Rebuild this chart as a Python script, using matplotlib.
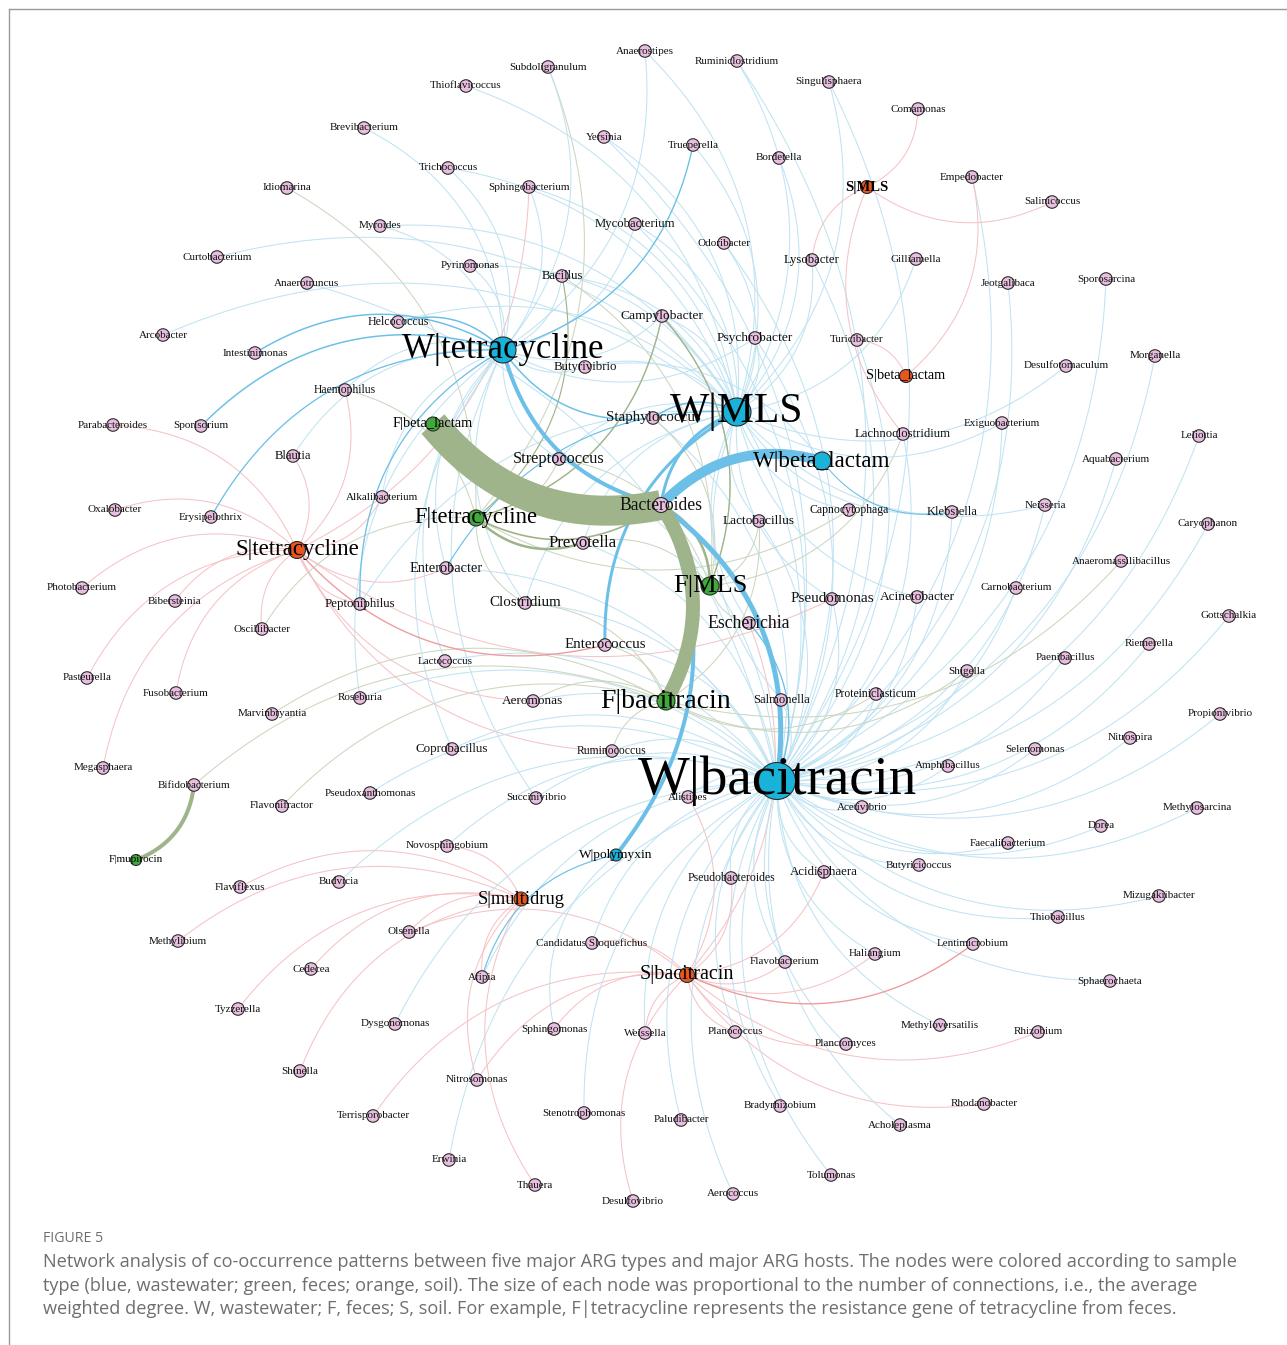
import numpy as np
import matplotlib.pyplot as plt

# ARG nodes (type|gene) and where they sit in the layout (pixel coords of the figure)
arg_names = ["W|bacitracin", "W|MLS", "W|tetracycline", "W|beta_lactam", "W|polymyxin",
             "F|beta_lactam", "F|tetracycline", "F|MLS", "F|bacitracin", "F|mupirocin",
             "S|tetracycline", "S|MLS", "S|beta_lactam", "S|multidrug", "S|bacitracin"]
arg_codes = ["Wb", "Wm", "Wt", "Wl", "Wp", "Fl", "Ft", "Fm", "Fb", "Fu", "St", "Sm", "Sl", "Sd", "Sb"]
arg_x = [777, 737, 503, 822, 616, 433, 476, 710, 666, 136, 297, 867, 906, 521, 687]
arg_y = [781, 412, 350, 461, 855, 424, 518, 586, 701, 860, 550, 187, 376, 899, 975]
# average weighted degree (relative)
arg_degree = [37, 28, 26, 18, 12, 14, 16, 18, 18, 11, 17, 13, 13, 14, 15]

host_names = [
    "Anaerostipes", "Subdoligranulum", "Ruminiclostridium", "Thioflavicoccus", "Singulisphaera",
    "Comamonas", "Brevibacterium", "Yersinia", "Trueperella", "Bordetella", "Trichococcus",
    "Sphingobacterium", "Idiomarina", "Empedobacter", "Salinicoccus", "Myroides", "Mycobacterium",
    "Odoribacter", "Curtobacterium", "Lysobacter", "Gilliamella", "Pyrinomonas", "Bacillus",
    "Anaerotruncus", "Jeotgalibaca", "Sporosarcina", "Campylobacter", "Helcococcus", "Psychrobacter",
    "Turicibacter", "Arcobacter", "Intestinimonas", "Butyrivibrio", "Desulfotomaculum", "Morganella",
    "Haemophilus", "Staphylococcus", "Parabacteroides", "Sporisorium", "Lachnoclostridium",
    "Exiguobacterium", "Leliottia", "Blautia", "Streptococcus", "Aquabacterium", "Alkalibacterium",
    "Bacteroides", "Oxalobacter", "Erysipelothrix", "Lactobacillus", "Capnocytophaga", "Klebsiella",
    "Neisseria", "Caryophanon", "Prevotella", "Anaeromassilibacillus", "Enterobacter",
    "Photobacterium", "Bibersteinia", "Peptoniphilus", "Clostridium", "Pseudomonas", "Acinetobacter",
    "Carnobacterium", "Gottschalkia", "Escherichia", "Oscillibacter", "Enterococcus", "Lactococcus",
    "Riemerella", "Paenibacillus", "Shigella", "Pasteurella", "Fusobacterium", "Roseburia",
    "Aeromonas", "Salmonella", "Proteiniclasticum", "Marvinbryantia", "Propionivibrio", "Nitrospira",
    "Coprobacillus", "Ruminococcus", "Selenomonas", "Amphibacillus", "Megasphaera", "Bifidobacterium",
    "Pseudoxanthomonas", "Alistipes", "Succinivibrio", "Flavonifractor", "Acetivibrio",
    "Methylosarcina", "Dorea", "Faecalibacterium", "Novosphingobium", "Pseudobacteroides",
    "Acidisphaera", "Butyricicoccus", "Flaviflexus", "Budvicia", "Mizugakiibacter", "Thiobacillus",
    "Olsenella", "Methylibium", "Candidatus Sloquefichus", "Lentimicrobium", "Cedecea", "Afipia",
    "Flavobacterium", "Haliangium", "Sphaerochaeta", "Tyzzerella", "Dysgonomonas", "Sphingomonas",
    "Weissella", "Planococcus", "Methyloversatilis", "Rhizobium", "Planctomyces", "Shinella",
    "Nitrosomonas", "Terrisporobacter", "Stenotrophomonas", "Paludibacter", "Bradyrhizobium",
    "Rhodanobacter", "Acholeplasma", "Erwinia", "Thauera", "Tolumonas", "Aerococcus", "Desulfovibrio"]
host_x = [
    645, 548, 737, 466, 829, 918, 364, 604, 693, 779, 448, 529, 287, 972, 1052, 380, 635, 724, 217,
    812, 916, 470, 562, 307, 1008, 1106, 662, 398, 755, 857, 163, 255, 585, 1066, 1155, 345, 653, 113,
    201, 903, 1002, 1199, 293, 559, 1116, 382, 661, 115, 211, 759, 849, 952, 1045, 1208, 583, 1121,
    446, 82, 175, 360, 525, 832, 917, 1016, 1229, 749, 262, 605, 445, 1149, 1065, 967, 87, 176, 360,
    533, 781, 876, 272, 1220, 1130, 452, 612, 1035, 948, 103, 194, 370, 688, 536, 282, 862, 1197,
    1101, 1008, 447, 731, 824, 919, 240, 339, 1159, 1058, 409, 178, 592, 973, 311, 482, 785, 875,
    1110, 238, 395, 554, 645, 735, 940, 1038, 846, 300, 477, 373, 584, 681, 780, 984, 900, 449, 535,
    831, 733, 633]
host_y = [
    51, 67, 61, 86, 82, 109, 128, 137, 145, 158, 168, 187, 188, 177, 202, 226, 224, 243, 257, 260,
    259, 266, 276, 283, 283, 279, 316, 322, 338, 340, 335, 353, 367, 366, 356, 390, 418, 425, 426,
    434, 423, 436, 456, 459, 459, 497, 505, 510, 517, 521, 510, 512, 505, 524, 543, 561, 568, 588,
    601, 604, 603, 599, 597, 588, 616, 623, 629, 645, 661, 644, 658, 671, 678, 693, 698, 701, 700,
    694, 714, 714, 738, 749, 751, 749, 766, 768, 785, 793, 797, 798, 806, 807, 808, 826, 843, 846,
    878, 872, 865, 887, 882, 896, 917, 932, 941, 943, 944, 969, 977, 962, 954, 981, 1009, 1024, 1029,
    1033, 1032, 1025, 1032, 1044, 1071, 1080, 1116, 1113, 1120, 1106, 1104, 1125, 1160, 1185, 1175,
    1194, 1201]

# host -> ARG co-occurrence links (thin edges)
links = [
    ("Anaerostipes", ["Wm", "Wt"]), ("Subdoligranulum", ["Ft", "Wt"]), ("Ruminiclostridium", ["Wm", "Wb"]),
    ("Thioflavicoccus", ["Wm"]), ("Singulisphaera", ["Wb", "Wm"]), ("Comamonas", ["Sm"]),
    ("Brevibacterium", ["Wt"]), ("Yersinia", ["Wm", "Wb"]), ("Trueperella", ["Wt", "Wm"]),
    ("Bordetella", ["Wm"]), ("Trichococcus", ["Wt", "Wm"]), ("Sphingobacterium", ["St", "Wt", "Wm"]),
    ("Idiomarina", ["Ft"]), ("Empedobacter", ["Wb", "Sl"]), ("Salinicoccus", ["Sm"]),
    ("Myroides", ["Wm", "Wt"]), ("Mycobacterium", ["Wt", "Wm", "Wb"]), ("Odoribacter", ["Wm", "Wb"]),
    ("Curtobacterium", ["Wm"]), ("Lysobacter", ["Sm", "Wb", "Wm"]), ("Gilliamella", ["Wm"]),
    ("Pyrinomonas", ["Wm", "Wt"]), ("Bacillus", ["Fm", "Wt", "Wm"]), ("Anaerotruncus", ["Wb"]),
    ("Jeotgalibaca", ["Wb"]), ("Sporosarcina", ["Wb"]), ("Campylobacter", ["Fm", "Ft", "Wm", "Wt", "Wb"]),
    ("Helcococcus", ["Wm"]), ("Psychrobacter", ["Wb", "Wm", "Wt"]), ("Turicibacter", ["Wb", "Sl"]),
    ("Arcobacter", ["Wm"]), ("Butyrivibrio", ["Wt", "Wm", "Wl"]), ("Desulfotomaculum", ["Wm"]),
    ("Morganella", ["Wb"]), ("Haemophilus", ["St", "Wt", "Ft"]), ("Staphylococcus", ["Wb", "Fm"]),
    ("Parabacteroides", ["St"]), ("Lachnoclostridium", ["Wb", "Fm", "Sm"]), ("Exiguobacterium", ["Wm", "Wb"]),
    ("Leliottia", ["Wb"]), ("Blautia", ["Wt", "St"]), ("Streptococcus", ["Wt", "Wm", "Fm", "Wb", "Ft"]),
    ("Aquabacterium", ["Wb"]), ("Alkalibacterium", ["St", "Wt"]), ("Oxalobacter", ["St"]),
    ("Erysipelothrix", ["Wt"]), ("Lactobacillus", ["Wm", "Wb", "Fm", "Fb"]), ("Capnocytophaga", ["Wm", "Ft"]),
    ("Klebsiella", ["Wm", "Wb"]), ("Neisseria", ["Wm", "Wb"]), ("Caryophanon", ["Wb"]),
    ("Prevotella", ["Wm", "Fm", "Wb"]), ("Anaeromassilibacillus", ["Fb"]), ("Enterobacter", ["St", "Wt", "Wb"]),
    ("Photobacterium", ["St"]), ("Bibersteinia", ["St"]), ("Peptoniphilus", ["St", "Wt", "Wm"]),
    ("Clostridium", ["Ft", "Wt", "Wm", "Wb", "Fb"]), ("Pseudomonas", ["Wb", "Wm", "St"]),
    ("Acinetobacter", ["Wb", "Wm"]), ("Carnobacterium", ["Wb"]), ("Gottschalkia", ["Wb"]),
    ("Escherichia", ["Fm", "Wb", "Wm", "Sb"]), ("Oscillibacter", ["St", "Ft"]), ("Enterococcus", ["Wb", "Fb"]),
    ("Lactococcus", ["Wt", "Wb"]), ("Riemerella", ["Wb"]), ("Paenibacillus", ["Wb"]), ("Shigella", ["Fb", "Wb"]),
    ("Pasteurella", ["St"]), ("Fusobacterium", ["St"]), ("Roseburia", ["Wt", "Wb"]),
    ("Aeromonas", ["St", "Wb", "Fb"]), ("Salmonella", ["Wb", "Wm"]), ("Proteiniclasticum", ["Fb", "Wb"]),
    ("Marvinbryantia", ["Fb"]), ("Propionivibrio", ["Wb"]), ("Nitrospira", ["Wb"]),
    ("Coprobacillus", ["Wt", "Wb"]), ("Ruminococcus", ["St", "Wb", "Fb"]), ("Selenomonas", ["Wb"]),
    ("Amphibacillus", ["Wb"]), ("Megasphaera", ["St"]), ("Bifidobacterium", ["Fb"]),
    ("Pseudoxanthomonas", ["Wb"]), ("Alistipes", ["Wb", "Sb"]), ("Succinivibrio", ["Wb", "Wt"]),
    ("Flavonifractor", ["Fb"]), ("Acetivibrio", ["Wb"]), ("Methylosarcina", ["Wb"]), ("Dorea", ["Wb"]),
    ("Faecalibacterium", ["Wb"]), ("Novosphingobium", ["Wb", "Sd"]), ("Pseudobacteroides", ["Wb", "Sb"]),
    ("Acidisphaera", ["Wb", "Sb"]), ("Butyricicoccus", ["Wb"]), ("Flaviflexus", ["Sd"]), ("Budvicia", ["Wb"]),
    ("Mizugakiibacter", ["Wb"]), ("Thiobacillus", ["Wb"]), ("Olsenella", ["Sb", "Sd"]), ("Methylibium", ["Sd"]),
    ("Candidatus Sloquefichus", ["Wb", "Sb"]), ("Lentimicrobium", ["Wb"]), ("Cedecea", ["Sd"]),
    ("Afipia", ["Wb", "Sd"]), ("Flavobacterium", ["Wb", "Sb"]), ("Haliangium", ["Sb", "Wb"]),
    ("Sphaerochaeta", ["Wb"]), ("Tyzzerella", ["Sd"]), ("Dysgonomonas", ["Wb"]), ("Sphingomonas", ["Wp", "Sb"]),
    ("Weissella", ["Wb", "Sb"]), ("Planococcus", ["Wb", "Sb"]), ("Methyloversatilis", ["Wb"]),
    ("Rhizobium", ["Sb"]), ("Planctomyces", ["Sb", "Wb"]), ("Shinella", ["Sd"]), ("Nitrosomonas", ["Sb", "Sd"]),
    ("Terrisporobacter", ["Sb"]), ("Stenotrophomonas", ["Wb"]), ("Paludibacter", ["Wb"]),
    ("Bradyrhizobium", ["Wb"]), ("Rhodanobacter", ["Sb"]), ("Acholeplasma", ["Wb"]), ("Erwinia", ["Wb"]),
    ("Thauera", ["Sd"]), ("Tolumonas", ["Wb"]), ("Aerococcus", ["Wb"]), ("Desulfovibrio", ["Sb"])]

# strong links: (ARG code, host, edge weight)
strong = [
    ("Fl", "Bacteroides", 30), ("Fb", "Bacteroides", 14), ("Wl", "Bacteroides", 10),
    ("Wb", "Bacteroides", 5), ("Wt", "Bacteroides", 4), ("Wp", "Bacteroides", 4),
    ("Fu", "Bifidobacterium", 4), ("Wm", "Bacteroides", 3), ("Wm", "Enterococcus", 3),
    ("Fm", "Bacteroides", 2.5), ("Ft", "Prevotella", 2.5), ("Ft", "Bacteroides", 2),
    ("Wt", "Intestinimonas", 1.8), ("Wt", "Helcococcus", 1.8), ("Wt", "Sporisorium", 1.8),
    ("Wt", "Staphylococcus", 1.8), ("Wm", "Staphylococcus", 1.8), ("Fm", "Campylobacter", 1.6),
    ("Ft", "Campylobacter", 1.6), ("Ft", "Bacillus", 1.4), ("St", "Enterococcus", 1.6),
    ("Sb", "Lentimicrobium", 1.6), ("Wp", "Afipia", 1.4), ("Wt", "Trueperella", 1.5),
    ("Wt", "Erysipelothrix", 1.4), ("Wt", "Peptoniphilus", 1.4), ("Wm", "Enterobacter", 1.4),
    ("Wb", "Escherichia", 1.4), ("Wl", "Klebsiella", 1.3)]

big_labels = {
    "Bacteroides": 12.7, "Escherichia": 12.8, "Prevotella": 12.2, "Streptococcus": 11.7,
    "Pseudomonas": 10.9, "Clostridium": 10.8, "Enterococcus": 10.8, "Staphylococcus": 10.8,
    "Enterobacter": 10.4, "Campylobacter": 9.7, "Psychrobacter": 9.7, "Acinetobacter": 9.6,
    "Lactobacillus": 9.6, "Aeromonas": 9.5, "Peptoniphilus": 9.3, "Butyrivibrio": 9.3,
    "Acidisphaera": 9.3, "Coprobacillus": 9.4, "Mycobacterium": 9.2, "Lysobacter": 9.2,
    "Lachnoclostridium": 9.2, "Bacillus": 9.2, "Blautia": 9.2, "Salmonella": 9.1, "Klebsiella": 9.0,
    "Helcococcus": 8.6, "Haemophilus": 8.4, "Proteiniclasticum": 8.4, "Capnocytophaga": 8.5,
    "Ruminococcus": 8.4, "Pseudobacteroides": 8.5}
arg_label_size = {
    "W|bacitracin": 39.5, "W|MLS": 30, "W|tetracycline": 25, "W|beta_lactam": 16.6,
    "W|polymyxin": 9.6, "F|beta_lactam": 10.4, "F|tetracycline": 16.3, "F|MLS": 19,
    "F|bacitracin": 20, "F|mupirocin": 8, "S|tetracycline": 16.5, "S|MLS": 10.5,
    "S|beta_lactam": 10.3, "S|multidrug": 13.3, "S|bacitracin": 14.5}

node_col = {"W": "#19b2d8", "F": "#41a83c", "S": "#e8561f"}
thin_col = {"W": "#bde2f2", "F": "#cad4ba", "S": "#f5c0c3"}
mid_col = {"W": "#6cc0e8", "F": "#9fb48a", "S": "#ef9a9c"}
host_col = "#e9bfe0"

pos = {}
for n, x, y in zip(arg_names, arg_x, arg_y):
    pos[n] = (x, y)
for n, x, y in zip(host_names, host_x, host_y):
    pos[n] = (x, y)
code2name = dict(zip(arg_codes, arg_names))


def arc(a, b, k=0.3, n=50):
    p0 = np.array(pos[a], float)
    p2 = np.array(pos[b], float)
    d = p2 - p0
    c = (p0 + p2) / 2 + k * np.array([-d[1], d[0]])
    t = np.linspace(0, 1, n)[:, None]
    pts = (1 - t) ** 2 * p0 + 2 * (1 - t) * t * c + t ** 2 * p2
    return pts[:, 0], pts[:, 1]


fig = plt.figure(figsize=(12.87, 13.45), dpi=100)
ax = fig.add_axes([0, 0, 1, 1])
ax.set_xlim(0, 1287)
ax.set_ylim(1345, 0)
ax.axis("off")

# frame lines (top and left)
ax.plot([9, 1287], [9, 9], color="#9a9a9a", lw=1.0)
ax.plot([9, 9], [9, 1345], color="#9a9a9a", lw=1.0)

for host, targets in links:
    for c in targets:
        xs, ys = arc(code2name[c], host)
        ax.plot(xs, ys, color=thin_col[c[0]], lw=0.75, alpha=0.95, zorder=1)

for c, host, w in sorted(strong, key=lambda s: s[2]):
    xs, ys = arc(code2name[c], host)
    ax.plot(xs, ys, color=mid_col[c[0]], lw=0.72 * w if w > 2 else 0.6 * w,
            solid_capstyle="butt", zorder=2)

# nodes
ax.scatter(host_x, host_y, s=[(15 if h == "Bacteroides" else 12.5) ** 2 * 0.52 for h in host_names],
           c=host_col, edgecolors="#2b2b2b", linewidths=0.8, zorder=3)
ax.scatter(arg_x, arg_y, s=[(d * 0.72) ** 2 for d in arg_degree],
           c=[node_col[n[0]] for n in arg_names], edgecolors="#2b2b2b", linewidths=0.8, zorder=3)

serif = ["Liberation Serif", "DejaVu Serif"]
for h, x, y in zip(host_names, host_x, host_y):
    ax.text(x, y, h, fontsize=big_labels.get(h, 8.0), family=serif, ha="center", va="center",
            color="#111111", zorder=4)
for n, x, y in zip(arg_names, arg_x, arg_y):
    ax.text(x, y, n, fontsize=arg_label_size[n], family=serif, ha="center", va="center",
            color="#000000", fontweight="bold" if n == "S|MLS" else "normal", zorder=4)

# caption
cap = ["Network analysis of co-occurrence patterns between five major ARG types and major ARG hosts. The nodes were colored according to sample",
       "type (blue, wastewater; green, feces; orange, soil). The size of each node was proportional to the number of connections, i.e., the average",
       "weighted degree. W, wastewater; F, feces; S, soil. For example, F|tetracycline represents the resistance gene of tetracycline from feces."]
ax.text(43, 1238, "FIGURE 5", fontsize=10.2, family="Open Sans", color="#6d6e71", va="center", ha="left")
for i, line in enumerate(cap):
    ax.text(43, 1262 + i * 23.7, line, fontsize=13.05, family="Open Sans", color="#6d6e71",
            va="center", ha="left")

fig.savefig("out.png", dpi=100)
